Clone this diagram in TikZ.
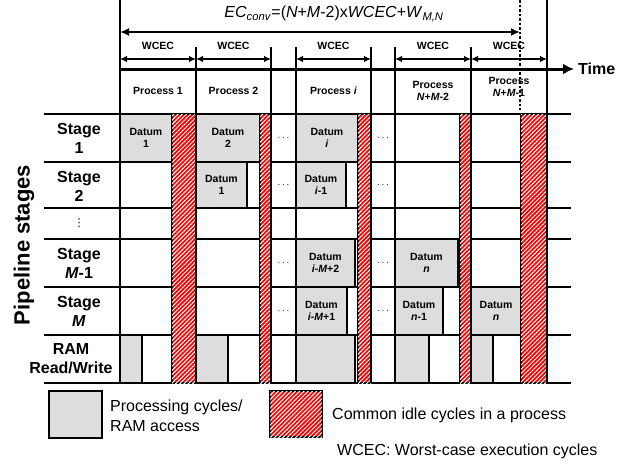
\documentclass[tikz,border=0pt]{standalone}
\usepackage{fontspec}
\setmainfont{Liberation Sans}
\newfontfamily\dvsans{DejaVu Sans}
\usetikzlibrary{patterns.meta,arrows.meta}
\begin{document}
\begin{tikzpicture}[x=1pt,y=-1pt,
  ln/.style={line width=2pt},
  gbox/.style={fill=gray!27, draw=black, line width=2pt},
  rbox/.style={fill=red, postaction={pattern={Lines[angle=45,distance=3pt,line width=1pt]}, pattern color=white}, draw=black, line width=2pt},
  dlbl/.style={font=\fontsize{10.5}{11.5}\selectfont\bfseries, align=center, inner sep=0pt},
  slbl/.style={font=\fontsize{16}{19}\selectfont\bfseries, align=center, inner sep=0pt},
  leg/.style={font=\fontsize{16}{20}\selectfont, align=left, inner sep=0pt, anchor=west},
  dts/.style={font=\fontsize{10}{12}\selectfont, inner sep=0pt},
  arr/.style={line width=1.6pt, {Latex[length=7pt,width=6.5pt]}-{Latex[length=7pt,width=6.5pt]}},
  bigarr/.style={line width=2pt, {Latex[length=9pt,width=8pt]}-{Latex[length=9pt,width=8pt]}},
]
\useasboundingbox (0,0) rectangle (635,466);

% horizontal grid lines
\foreach \y in {114,162,208,239,287,335,383}
  \draw[ln] (44,\y) -- (571,\y);

% gray boxes: processing cycles
% Stage 1
\draw[gbox] (120,114) rectangle (172,162);
\draw[gbox] (196,114) rectangle (260,162);
\draw[gbox] (296,114) rectangle (358,162);
% Stage 2
\draw[gbox] (196,162) rectangle (247,208);
\draw[gbox] (296,162) rectangle (346,208);
% Stage M-1
\draw[gbox] (296,239) rectangle (355,287);
\draw[gbox] (395,239) rectangle (458,287);
% Stage M
\draw[gbox] (296,287) rectangle (347,335);
\draw[gbox] (395,287) rectangle (443,335);
\draw[gbox] (471,287) rectangle (521,335);
% RAM
\draw[gbox] (120,335) rectangle (142,383);
\draw[gbox] (196,335) rectangle (228,383);
\draw[gbox] (296,335) rectangle (355,383);
\draw[gbox] (395,335) rectangle (429,383);
\draw[gbox] (471,335) rectangle (493,383);

% red idle columns
\draw[rbox] (172,114) rectangle (196,383);
\draw[rbox] (260,114) rectangle (271,383);
\draw[rbox] (358,114) rectangle (371,383);
\draw[rbox] (460,114) rectangle (471,383);
\draw[rbox] (521,114) rectangle (547,383);

% vertical lines
\draw[ln] (120,0) -- (120,383);
\draw[ln] (547,0) -- (547,383);
\foreach \x in {196,271,296,371,395,471}
  \draw[ln] (\x,47) -- (\x,383);

% dotted end line
\coordinate (d0) at (520,0);
\coordinate (d1) at (520,110);
\draw[line width=2pt, dash pattern=on 2.5pt off 2pt] (d0) -- (d1);

% EC arrow
\coordinate (e0) at (120,32);
\coordinate (e1) at (520,32);
\draw[bigarr] (e0) -- (e1);
\node[font=\fontsize{16}{18}\selectfont, inner sep=0pt] (ec) at (334,14)
  {\textit{EC}\textsubscript{\textit{conv}}=(\textit{N}+\textit{M}-2)x\textit{WCEC}+\textit{W}\textsubscript{\textit{M,N}}};

% WCEC arrows
\foreach \n/\x in {0/120,1/196,2/271,3/296,4/371,5/395,6/471,7/547}
  \coordinate (w\n) at (\x,59);
\draw[arr] (w0) -- (w1);
\draw[arr] (w1) -- (w2);
\draw[arr] (w3) -- (w4);
\draw[arr] (w5) -- (w6);
\draw[arr] (w6) -- (w7);
\node[dlbl] (wc1) at (158,46) {WCEC};
\node[dlbl] (wc2) at (233.5,46) {WCEC};
\node[dlbl] (wc3) at (333.5,46) {WCEC};
\node[dlbl] (wc4) at (433,46) {WCEC};
\node[dlbl] (wc5) at (509,46) {WCEC};

% time axis
\coordinate (t0) at (120,69);
\coordinate (t1) at (574,69);
\draw[line width=3pt, -{Latex[length=11pt,width=11pt]}] (t0) -- (t1);
\node[slbl, anchor=west] (time) at (578,69) {Time};

% process labels
\node[dlbl] (p1) at (158,91) {Process 1};
\node[dlbl] (p2) at (233.5,91) {Process 2};
\node[dlbl] (pi) at (333.5,91) {Process \textit{i}};
\node[dlbl] (pn2) at (433,91) {Process\\\textit{N}+\textit{M}-2};
\node[dlbl] (pn1) at (509,87) {Process\\\textit{N}+\textit{M}-1};

% stage labels
\node[slbl] (s1) at (79,138) {Stage\\1};
\node[slbl] (s2) at (79,186) {Stage\\2};
\node[font=\fontsize{11}{12}\selectfont\dvsans, inner sep=0pt] (sv) at (79,223) {⋮};
\node[slbl] (sm1) at (79,263) {Stage\\\textit{M}-1};
\node[slbl] (sm) at (79,311) {Stage\\\textit{M}};
\node[slbl] (ram) at (71,359) {RAM\\Read/Write};
\node[font=\fontsize{22}{24}\selectfont\bfseries, rotate=90, inner sep=0pt] (ps) at (24,245) {Pipeline stages};

% datum labels
\node[dlbl] (a1) at (146,138) {Datum\\1};
\node[dlbl] (a2) at (228,138) {Datum\\2};
\node[dlbl] (ai) at (327,138) {Datum\\\textit{i}};
\node[dlbl] (b1) at (221.5,185) {Datum\\1};
\node[dlbl] (bi) at (321,185) {Datum\\\textit{i}-1};
\node[dlbl] (ci) at (325.5,263) {Datum\\\textit{i-M}+2};
\node[dlbl] (cn) at (426.5,263) {Datum\\\textit{n}};
\node[dlbl] (di) at (321.5,311) {Datum\\\textit{i-M}+1};
\node[dlbl] (dn1) at (419,311) {Datum\\\textit{n}-1};
\node[dlbl] (dn) at (496,311) {Datum\\\textit{n}};

% horizontal dots in gaps
\foreach \n/\y in {1/138,2/185,3/263,4/311} {
  \node[dts] (ga\n) at (283.5,\y) {$\cdots$};
  \node[dts] (gb\n) at (383,\y) {$\cdots$};
}

% legend
\draw[gbox] (49,391) rectangle (102,438);
\draw[rbox] (270,391) rectangle (322,437);
\node[leg] (lg1) at (110,416) {Processing cycles/\\RAM access};
\node[leg] (lg2) at (332,415) {Common idle cycles in a process};
\node[leg] (lg3) at (337,451) {WCEC: Worst-case execution cycles};
\end{tikzpicture}
\end{document}
